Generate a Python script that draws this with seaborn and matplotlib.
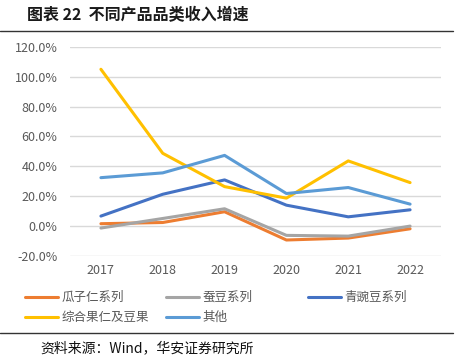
import pandas as pd
import matplotlib.pyplot as plt
import seaborn as sns
from matplotlib.lines import Line2D
from matplotlib.ticker import FuncFormatter

years = ['2017', '2018', '2019', '2020', '2021', '2022']
series_names = ['瓜子仁系列', '蚕豆系列', '青豌豆系列', '综合果仁及豆果', '其他']
guazi = [1.6, 2.4, 9.6, -9.3, -8.0, -1.8]
candou = [-1.3, 5.1, 11.6, -6.2, -6.7, 0.0]
qingwandou = [6.7, 21.3, 30.9, 14.0, 6.2, 10.9]
zonghe = [104.9, 48.7, 26.4, 18.7, 43.6, 29.1]
qita = [32.4, 35.6, 47.3, 21.8, 25.8, 14.7]
colors = ['#ED7D31', '#A5A5A5', '#4472C4', '#FFC000', '#5B9BD5']

values = [guazi, candou, qingwandou, zonghe, qita]
rows = []
for name, vals in zip(series_names, values):
    for y, v in zip(years, vals):
        rows.append({'year': y, 'value': v, 'series': name})
df = pd.DataFrame(rows)

sns.set_style('white')
plt.rcParams['font.family'] = ['Noto Sans CJK SC', 'DejaVu Sans']

W, H = 461, 364
fig = plt.figure(figsize=(W / 100, H / 100), dpi=100)
ax = fig.add_axes([70 / W, 1 - 256 / H, (441 - 70) / W, (256 - 46.7) / H])

sns.lineplot(data=df, x='year', y='value', hue='series', hue_order=series_names,
             palette=dict(zip(series_names, colors)), linewidth=2.2, sort=False,
             estimator=None, ax=ax, legend=True)

ax.set_xlim(-0.5, 5.5)
ax.set_ylim(-20, 120)
ax.set_yticks(range(-20, 121, 20))
ax.yaxis.set_major_formatter(FuncFormatter(lambda v, p: f'{v:.1f}%'))
ax.grid(axis='y', color='#D9D9D9', linewidth=1)
ax.grid(axis='x', visible=False)
for s in ax.spines.values():
    s.set_visible(False)
ax.tick_params(axis='both', length=0, labelsize=9, colors='#595959')
ax.tick_params(axis='y', pad=9)
ax.tick_params(axis='x', pad=6)
ax.set_xlabel('')
ax.set_ylabel('')

# legend: three fixed-width columns like the original
handles, labels = ax.get_legend_handles_labels()
ax.get_legend().remove()
hmap = dict(zip(labels, handles))
columns = [['瓜子仁系列', '综合果仁及豆果'], ['蚕豆系列', '其他'], ['青豌豆系列']]
col_x = [25, 166, 308]
for cx, col in zip(col_x, columns):
    fig.legend([hmap[c] for c in col], col, loc='upper left',
               bbox_to_anchor=(cx / W, 1 - 291 / H), frameon=False,
               borderpad=0, borderaxespad=0, handlelength=2.6, handletextpad=0.3,
               labelspacing=0.55, fontsize=9, labelcolor='#595959')

# title and source
fig.text(27 / W, 1 - 15 / H, '图表 22  不同产品品类收入增速', fontsize=11.5,
         fontweight='bold', color='#1a1a1a', ha='left', va='center')
fig.add_artist(Line2D([0, 453 / W], [1 - 31 / H, 1 - 31 / H], color='#333333', linewidth=1))
fig.add_artist(Line2D([0, 453 / W], [1 - 333 / H, 1 - 333 / H], color='#333333', linewidth=1))
fig.text(40 / W, 1 - 348 / H, '资料来源：Wind，华安证券研究所', fontsize=10,
         color='#111111', ha='left', va='center')

fig.savefig('out.png', dpi=100)
